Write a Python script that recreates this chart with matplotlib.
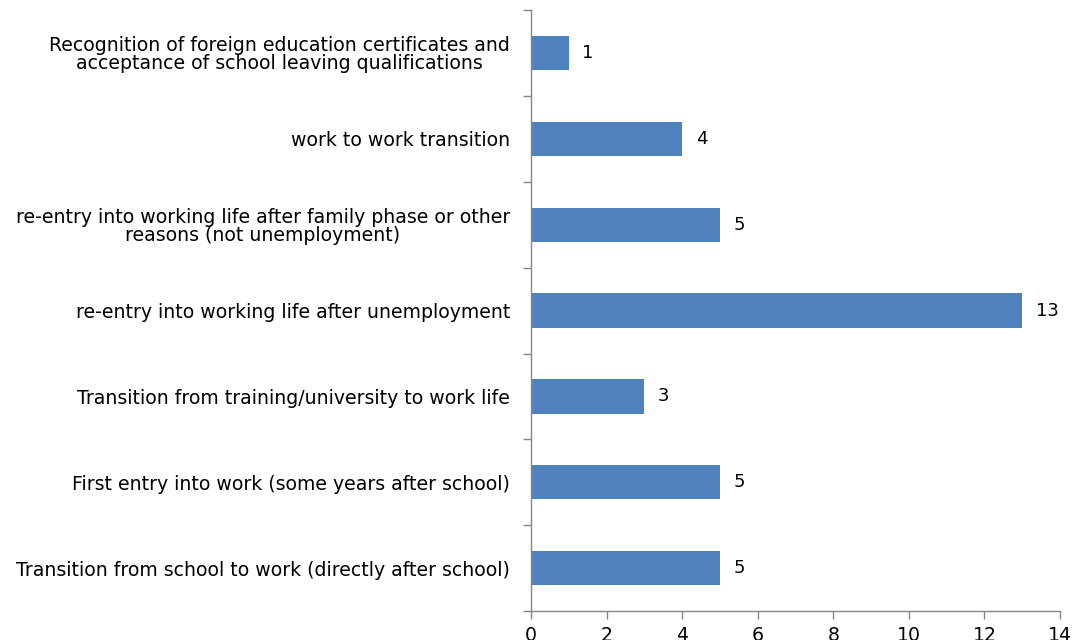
import numpy as np
import matplotlib.pyplot as plt
from matplotlib.ticker import FixedLocator

plt.rcParams['font.family'] = ['DejaVu Sans']

categories = [
    "Transition from school to work (directly after school)",
    "First entry into work (some years after school)",
    "Transition from training/university to work life",
    "re-entry into working life after unemployment",
    "re-entry into working life after family phase or other\nreasons (not unemployment)",
    "work to work transition",
    "Recognition of foreign education certificates and\nacceptance of school leaving qualifications",
]
counts = [5, 5, 3, 13, 5, 4, 1]
xticks = [0, 2, 4, 6, 8, 10, 12, 14]

bar_color = "#4f81bd"
axis_color = "#868686"
fs = 13.6

fig = plt.figure(figsize=(10.74, 6.4), dpi=100)
ax = fig.add_axes([0.4944, 0.0453, 0.4926, 0.9387])

y = np.arange(len(categories))
ax.barh(y, counts, height=0.4, color=bar_color)

for yi, v in zip(y, counts):
    ax.text(v + 0.36, yi, str(v), va="center", ha="left", fontsize=fs - 0.6, color="black")

ax.set_xlim(0, 14)
ax.set_ylim(-0.5, len(categories) - 0.5)
ax.set_xticks(xticks)
ax.set_xticklabels([str(t) for t in xticks], fontsize=fs)
ax.set_yticks(y)
ax.set_yticklabels(categories, fontsize=fs, multialignment="center", linespacing=0.95)
ax.yaxis.set_minor_locator(FixedLocator(np.arange(-0.5, len(categories), 1.0)))

ax.tick_params(axis="y", which="major", length=0, pad=15)
ax.tick_params(axis="y", which="minor", length=6, color=axis_color, width=1)
ax.tick_params(axis="x", which="major", length=6, color=axis_color, width=1, pad=5)

for side in ["top", "right"]:
    ax.spines[side].set_visible(False)
for side in ["left", "bottom"]:
    ax.spines[side].set_color(axis_color)
    ax.spines[side].set_linewidth(1)

fig.savefig("out.png", dpi=100)
